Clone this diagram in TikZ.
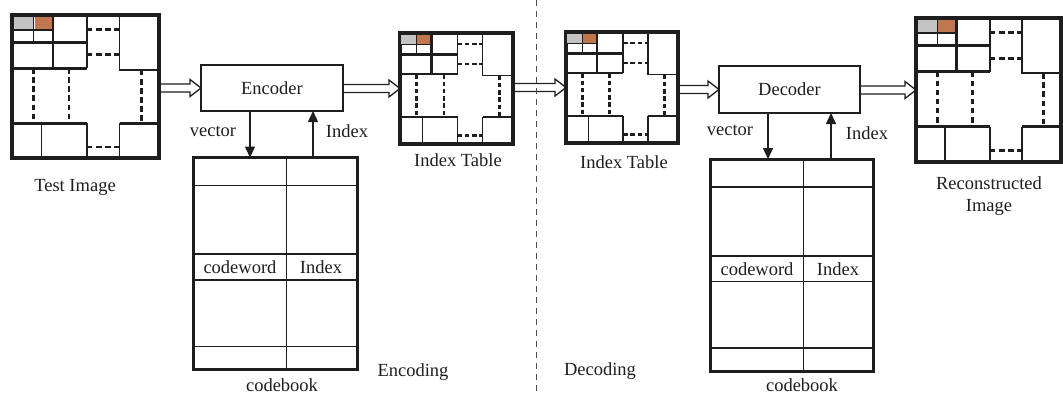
\documentclass[tikz,border=0pt]{standalone}
\usepackage{fontspec}
\setmainfont{Liberation Serif}
\usetikzlibrary{arrows.meta,calc}
\definecolor{tilegray}{RGB}{195,195,195}
\definecolor{tileorange}{RGB}{192,118,78}
\definecolor{inkc}{RGB}{30,30,30}

% #1 node name, #2 width, #3 height, #4 scale factor
\newcommand{\imgcontent}[4]{%
 \pgfmathsetmacro\tkw{#4*2.9}%
 \pgfmathsetmacro\tnw{#4*1.6}%
 \pgfmathsetmacro\don{#4*5.5}%
 \pgfmathsetmacro\doff{#4*3.6}%
 \begin{scope}[shift={(#1.north west)},xscale=#2,yscale=#3]
  \fill[tilegray] (0.011,0.016) rectangle (0.143,0.1);
  \fill[tileorange] (0.154,0.016) rectangle (0.272,0.1);
  \draw[inkc,line width=\tnw pt]
    (0.147,0) -- (0.147,0.193)
    (0,0.105) -- (0.279,0.105)
    (0.51,0) -- (0.51,0.372)
    (0.732,0) -- (0.732,0.384) -- (1,0.384)
    (0.2,0.756) -- (0.2,1)
    (0.51,0.756) -- (0.51,1)
    (0.732,1) -- (0.732,0.756);
  \draw[inkc,line width=\tkw pt]
    (0.279,0) -- (0.279,0.372)
    (0,0.193) -- (0.51,0.193)
    (0,0.372) -- (0.51,0.372)
    (0,0.756) -- (0.51,0.756)
    (0.732,0.756) -- (1,0.756);
  \draw[inkc,line width=\tkw pt,dash pattern=on \don pt off \doff pt]
    (0.51,0.1) -- (0.732,0.1)
    (0.51,0.279) -- (0.732,0.279)
    (0.51,0.923) -- (0.732,0.923)
    (0.147,0.372) -- (0.147,0.756)
    (0.388,0.372) -- (0.388,0.756)
    (0.88,0.384) -- (0.88,0.756);
 \end{scope}}

% #1 codebook node name
\newcommand{\cbcontent}[1]{%
 \begin{scope}[shift={(#1.north west)},xscale=164,yscale=212]
  \draw[inkc,line width=1.7pt]
    (0.57,0) -- (0.57,1)
    (0,0.132) -- (1,0.132)
    (0,0.456) -- (1,0.456)
    (0,0.578) -- (1,0.578)
    (0,0.892) -- (1,0.892);
 \end{scope}}

\begin{document}
\begin{tikzpicture}[x=1pt,y=-1pt,
  every node/.style={font=\fontsize{18.5}{22}\selectfont,text=inkc},
  imgbox/.style={draw=inkc,rectangle,inner sep=0pt,outer sep=0pt,line width=3.3pt},
  procbox/.style={draw=inkc,rectangle,inner sep=0pt,outer sep=0pt,line width=2.7pt,
     minimum width=142pt,minimum height=46pt},
  cbbox/.style={draw=inkc,rectangle,inner sep=0pt,outer sep=0pt,line width=3pt,
     minimum width=164pt,minimum height=212pt},
  lbl/.style={inner sep=0pt},
  hollow/.style={draw=inkc,line width=1.3pt,line join=miter,
     to path={let \p1=(\tikztostart), \p2=(\tikztotarget) in
       (\x1,\y2+4pt) -- (\x2-11pt,\y2+4pt) -- (\x2-11pt,\y2+8.5pt) -- (\x2,\y2)
       -- (\x2-11pt,\y2-8.5pt) -- (\x2-11pt,\y2-4pt) -- (\x1,\y2-4pt)}},
  flow/.style={draw=inkc,line width=1.5pt,-{Triangle[length=11pt,width=10pt]}},
  sep/.style={draw=black!70,line width=0.9pt,dash pattern=on 6pt off 5pt}
]
\useasboundingbox (0,0) rectangle (1063,394);

% images
\node[imgbox,minimum width=147pt,minimum height=143pt] (test) at (85.5,86.5) {};
\node[imgbox,minimum width=113pt,minimum height=111pt] (it1) at (456.5,88.5) {};
\node[imgbox,minimum width=112pt,minimum height=111pt] (it2) at (622,87.5) {};
\node[imgbox,minimum width=145pt,minimum height=144pt] (rec) at (988.5,90) {};
\imgcontent{test}{147}{143}{1}
\imgcontent{it1}{113}{111}{0.8}
\imgcontent{it2}{112}{111}{0.8}
\imgcontent{rec}{145}{144}{1}

% processing boxes
\node[procbox] (enc) at (272,88) {Encoder};
\node[procbox,minimum width=141pt,minimum height=47pt] (dec) at (789.5,89.5) {Decoder};

% codebooks
\node[cbbox] (cb1) at (275,263.5) {};
\node[cbbox,minimum width=163pt] (cb2) at (791.5,265) {};
\cbcontent{cb1}
\cbcontent{cb2}
\node[lbl] (cw1) at (240,267) {codeword};
\node[lbl] (ix1) at (321,267) {Index};
\node[lbl] (cw2) at (757,269) {codeword};
\node[lbl] (ix2) at (838,269) {Index};

% labels
\node[lbl] (ltest) at (75,187) {Test Image};
\node[lbl] (lit1) at (458,160) {Index Table};
\node[lbl] (lit2) at (624,162) {Index Table};
\node[lbl,align=center,font=\fontsize{18.5}{22}\selectfont] (lrec) at (989,196) {Reconstructed\\Image};
\node[lbl] (lenc) at (413,372) {Encoding};
\node[lbl] (ldec) at (600,371) {Decoding};
\node[lbl] (lcb1) at (282,385) {codebook};
\node[lbl] (lcb2) at (802,385) {codebook};
\node[lbl] (v1) at (213,131) {vector};
\node[lbl] (i1) at (347,131) {Index};
\node[lbl] (v2) at (730,130) {vector};
\node[lbl] (i2) at (867,133) {Index};

% hollow double arrows
\draw[hollow] (test.east) to (enc.west);
\draw[hollow] (enc.east) to (it1.west);
\draw[hollow] (it1.east) to (it2.west);
\draw[hollow] (it2.east) to (dec.west);
\draw[hollow] (dec.east) to (rec.west);

% vector / index arrows
\draw[flow] ([xshift=-22pt]enc.south) -- ([xshift=-22pt]enc.south |- cb1.north);
\draw[flow] ([xshift=41pt]enc.south |- cb1.north) -- ([xshift=41pt]enc.south);
\draw[flow] ([xshift=-21.5pt]dec.south) -- ([xshift=-21.5pt]dec.south |- cb2.north);
\draw[flow] ([xshift=41.5pt]dec.south |- cb2.north) -- ([xshift=41.5pt]dec.south);

% separator
\coordinate (stop) at (536,0);
\coordinate (sbot) at (536,394);
\draw[sep] (stop) -- (sbot);
\end{tikzpicture}
\end{document}
